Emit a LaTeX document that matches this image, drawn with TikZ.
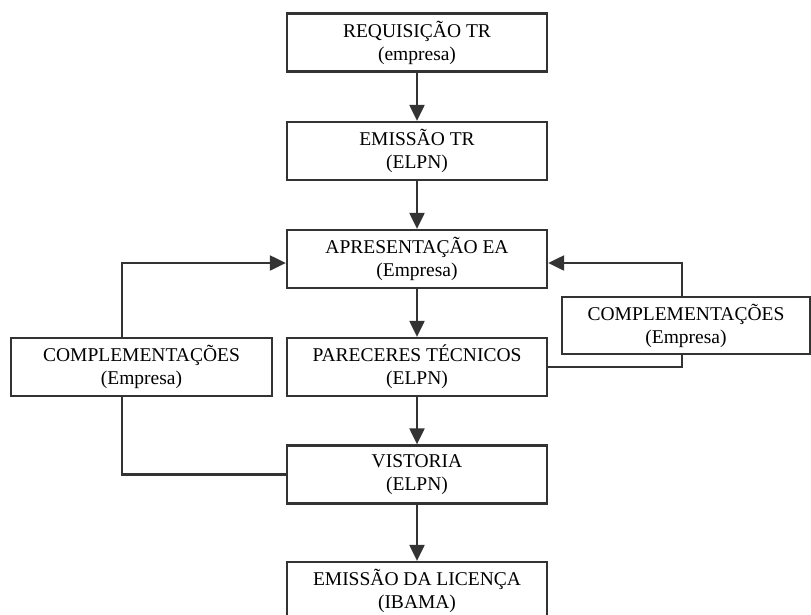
\documentclass[tikz,border=0pt]{standalone}
\usepackage{fontspec}
\setmainfont{Liberation Serif}
\usetikzlibrary{arrows.meta}
\begin{document}
\begin{tikzpicture}[x=1pt,y=-1pt,
  stepbox/.style={draw=black!80,line width=2.3pt,minimum width=260pt,minimum height=58pt,inner sep=0pt,align=center,
    font=\fontsize{19.5}{23}\selectfont},
  link/.style={draw=black!80,line width=2.2pt},
  arr/.style={link,-{Triangle[length=16pt,width=15pt]}}]
\useasboundingbox (0,0) rectangle (811,614);
\clip (0,0) rectangle (811,614);
\node[stepbox] (r1) at (417,42.5) {REQUISIÇÃO TR\\(empresa)};
\node[stepbox] (r2) at (417,151) {EMISSÃO TR\\(ELPN)};
\node[stepbox] (r3) at (417,259) {APRESENTAÇÃO EA\\(Empresa)};
\node[stepbox] (r4) at (417,367) {PARECERES TÉCNICOS\\(ELPN)};
\node[stepbox] (r5) at (417,474.5) {VISTORIA\\(ELPN)};
\node[stepbox] (r6) at (417,591) {EMISSÃO DA LICENÇA\\(IBAMA)};
\node[stepbox,minimum width=261pt] (cl) at (141.5,367) {COMPLEMENTAÇÕES\\(Empresa)};
\node[stepbox,minimum width=248pt,minimum height=57pt] (cr) at (686,325.5) {COMPLEMENTAÇÕES\\(Empresa)};
\coordinate (lx) at (122,0);
\coordinate (rx) at (682,0);
\coordinate (ra) at ([yshift=-4pt]r3.west);
\coordinate (rb) at ([yshift=-4pt]r3.east);
\draw[arr] (r1) -- (r2);
\draw[arr] (r2) -- (r3);
\draw[arr] (r3) -- (r4);
\draw[arr] (r4) -- (r5);
\draw[arr] (r5) -- (r6);
\draw[link] (r5.west) -- (r5.west -| lx) -- (lx |- cl.south);
\draw[arr] (lx |- cl.north) -- (lx |- ra) -- (ra);
\draw[link] (r4.east) -- (r4.east -| rx) -- (rx |- cr.south);
\draw[arr] (rx |- cr.north) -- (rx |- rb) -- (rb);
\end{tikzpicture}
\end{document}
